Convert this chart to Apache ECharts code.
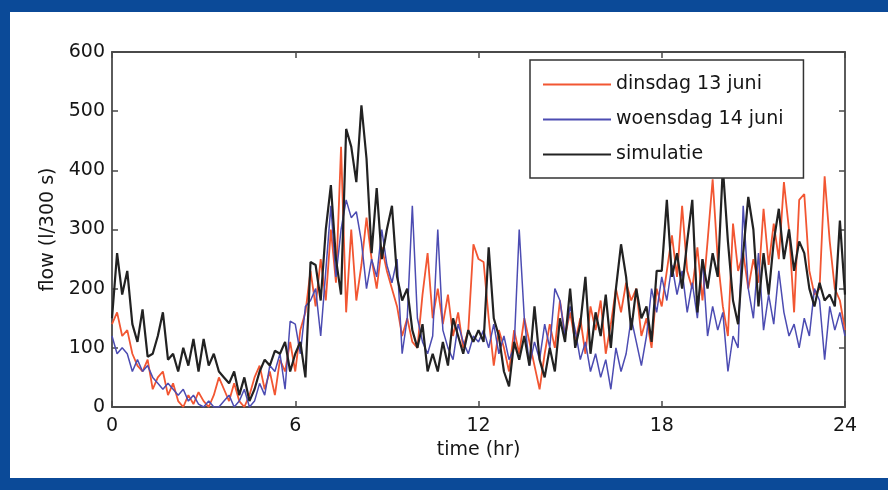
<!DOCTYPE html>
<html>
<head>
<meta charset="utf-8">
<script src="https://cdn.jsdelivr.net/npm/echarts@6/dist/echarts.min.js"></script>
<style>
  html, body { margin: 0; padding: 0; background: #fff; }
  #frame {
    position: absolute; left: 0; top: 0; width: 888px; height: 490px;
    box-sizing: border-box;
    border-left: 10px solid #0b4a98;
    border-top: 12px solid #0b4a98;
    border-bottom: 12px solid #0b4a98;
  }
  #main { position: absolute; left: 0; top: 0; width: 888px; height: 490px; }
</style>
</head>
<body>
<div id="frame"></div>
<div id="main"></div>
<script>
// samples every 10 minutes, 0 .. 24 hr
const times = Array.from({ length: 145 }, (_, i) => i / 6);
const xTicks = [0, 6, 12, 18, 24];
const yTicks = [0, 100, 200, 300, 400, 500, 600];

// dinsdag 13 juni
const dinsdag = [
  140, 160, 120, 130, 90, 70,
  60, 80, 30, 50, 60, 20,
  40, 10, 0, 20, 5, 25,
  10, 0, 20, 50, 30, 10,
  40, 10, 0, 20, 50, 70,
  30, 60, 20, 80, 60, 110,
  60, 130, 160, 230, 170, 250,
  180, 300, 210, 440, 160, 300,
  180, 240, 320, 250, 200, 270,
  230, 200, 170, 120, 150, 110,
  100, 190, 260, 150, 200, 140,
  190, 120, 160, 100, 130, 275,
  250, 245, 150, 70, 130, 100,
  60, 130, 90, 150, 110, 70,
  30, 90, 140, 100, 180, 120,
  160, 110, 150, 90, 170, 130,
  180, 90, 140, 200, 160, 210,
  180, 200, 120, 150, 100, 200,
  170, 230, 290, 220, 340, 230,
  200, 270, 180, 280, 385, 250,
  170, 120, 310, 230, 260, 200,
  250, 210, 335, 240, 310, 250,
  380, 300, 160, 350, 360, 230,
  190, 200, 390, 280, 200, 180,
  130
];

// woensdag 14 juni
const woensdag = [
  120, 90, 100, 90, 60, 80,
  60, 70, 50, 40, 30, 40,
  30, 20, 30, 10, 20, 5,
  0, 10, 0, 0, 10, 20,
  0, 10, 30, 0, 10, 40,
  20, 70, 60, 90, 30, 145,
  140, 90, 170, 180, 200, 120,
  230, 340, 220, 300, 350, 320,
  330, 280, 200, 250, 220, 300,
  240, 210, 250, 90, 150, 340,
  150, 110, 90, 120, 300, 130,
  100, 80, 140, 110, 90, 120,
  110, 130, 100, 140, 90, 120,
  80, 100, 300, 150, 70, 110,
  80, 140, 100, 200, 180, 120,
  170, 130, 80, 110, 60, 90,
  50, 80, 30, 100, 60, 90,
  150, 110, 70, 120, 200, 160,
  220, 180, 240, 190, 230, 160,
  210, 150, 250, 120, 170, 130,
  160, 60, 120, 100, 340, 200,
  150, 260, 130, 190, 140, 230,
  160, 120, 140, 100, 150, 120,
  200, 180, 80, 170, 130, 160,
  120
];

// simulatie
const simulatie = [
  150, 260, 190, 230, 140, 110,
  165, 85, 90, 120, 160, 80,
  90, 60, 100, 70, 115, 60,
  115, 70, 90, 60, 50, 40,
  60, 20, 50, 10, 30, 60,
  80, 70, 95, 90, 110, 60,
  90, 110, 50, 245, 240, 180,
  300, 375, 250, 190, 470, 440,
  380, 510, 420, 260, 370, 250,
  300, 340, 220, 180, 200, 130,
  100, 140, 60, 90, 60, 110,
  70, 150, 120, 90, 130, 110,
  130, 110, 270, 150, 120, 60,
  35, 110, 80, 120, 70, 170,
  80, 50, 100, 60, 150, 110,
  200, 100, 140, 220, 90, 160,
  120, 190, 100, 200, 275, 220,
  130, 200, 150, 170, 110, 230,
  230, 350, 220, 260, 200, 280,
  350, 160, 250, 200, 260, 220,
  405, 280, 180, 140, 260, 355,
  300, 170, 260, 190, 280, 335,
  250, 300, 230, 280, 260, 200,
  170, 210, 180, 190, 170, 315,
  190
];

const pairs = vals => times.map((t, i) => [t, vals[i]]);

const font = 'DejaVu Sans';
const textColor = '#151515';
const axisColor = '#4a4a4a';

const boxAxis = (pos, extra) => Object.assign({
  type: 'value',
  position: pos,
  axisLine: { show: true, onZero: false, lineStyle: { color: axisColor, width: 1.8 } },
  axisTick: { show: true, inside: true, length: 6, lineStyle: { color: axisColor, width: 1.5 } },
  splitLine: { show: false }
}, extra);

const chart = echarts.init(document.getElementById('main'));

chart.setOption({
  animation: false,
  grid: { left: 112, right: 43, top: 52, bottom: 83 },
  legend: {
    orient: 'vertical',
    left: 530,
    top: 60,
    padding: [15, 20, 14, 12],
    itemWidth: 68,
    itemHeight: 14,
    itemGap: 16,
    borderColor: '#333',
    borderWidth: 1.5,
    backgroundColor: '#fff',
    itemStyle: { opacity: 0 },
    textStyle: { fontFamily: font, fontSize: 19, color: textColor },
    data: ['dinsdag 13 juni', 'woensdag 14 juni', 'simulatie']
  },
  xAxis: [
    boxAxis('bottom', {
      min: 0, max: 24, interval: 6,
      name: 'time (hr)',
      nameLocation: 'middle',
      nameGap: 33,
      nameTextStyle: { fontFamily: font, fontSize: 19, color: textColor },
      axisLabel: {
        fontFamily: font, fontSize: 19, color: textColor, margin: 10,
        formatter: v => (xTicks.includes(v) ? String(v) : '')
      }
    }),
    boxAxis('top', { min: 0, max: 24, interval: 6, axisLabel: { show: false } })
  ],
  yAxis: [
    boxAxis('left', {
      min: 0, max: 600, interval: 100,
      name: 'flow (l/300 s)',
      nameLocation: 'middle',
      nameGap: 54,
      nameTextStyle: { fontFamily: font, fontSize: 19, color: textColor },
      axisLabel: {
        fontFamily: font, fontSize: 19, color: textColor, margin: 7,
        formatter: v => (yTicks.includes(v) ? String(v) : '')
      }
    }),
    boxAxis('right', { min: 0, max: 600, interval: 100, axisLabel: { show: false } })
  ],
  series: [
    {
      name: 'dinsdag 13 juni', type: 'line', symbol: 'none',
      lineStyle: { color: '#f25632', width: 1.8 }, itemStyle: { color: '#f25632' },
      data: pairs(dinsdag)
    },
    {
      name: 'woensdag 14 juni', type: 'line', symbol: 'none',
      lineStyle: { color: '#4c4cb2', width: 1.5 }, itemStyle: { color: '#4c4cb2' },
      data: pairs(woensdag)
    },
    {
      name: 'simulatie', type: 'line', symbol: 'none',
      lineStyle: { color: '#222222', width: 2.2 }, itemStyle: { color: '#222222' },
      data: pairs(simulatie)
    }
  ]
});
</script>
</body>
</html>
